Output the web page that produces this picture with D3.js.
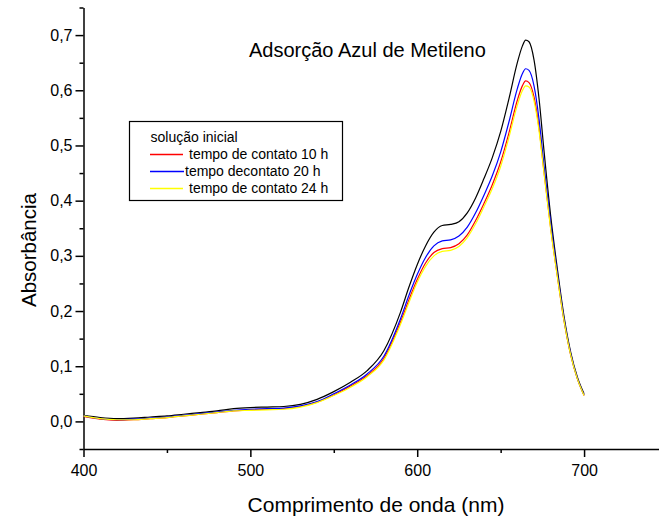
<!DOCTYPE html>
<html>
<head>
<meta charset="utf-8">
<script src="https://cdn.jsdelivr.net/npm/d3@7"></script>
<style>
  body { margin: 0; background: #fff; }
  text { font-family: Arial, "Liberation Sans", sans-serif; fill: #000; }
</style>
</head>
<body>
<script>
// wavelengths (nm) and absorbance for each sample
var wavelengths = [400, 410, 420, 430, 440, 450, 460, 470, 480, 490, 500, 510, 520, 530, 540,
  550, 560, 570, 580, 590, 595, 600, 605, 610, 615, 620, 625, 630, 635, 640, 645, 650, 655,
  660, 663, 665, 667, 670, 673, 676, 680, 684, 688, 692, 696, 700];

var absInicial = [0.011, 0.007, 0.005, 0.006, 0.008, 0.010, 0.013, 0.016, 0.019, 0.023, 0.025,
  0.026, 0.027, 0.031, 0.040, 0.054, 0.071, 0.092, 0.128, 0.198, 0.243, 0.284, 0.318, 0.343,
  0.355, 0.357, 0.362, 0.378, 0.405, 0.440, 0.478, 0.525, 0.585, 0.650, 0.680, 0.691, 0.688,
  0.655, 0.585, 0.490, 0.372, 0.276, 0.190, 0.125, 0.080, 0.050];

var abs10h = [0.009, 0.004, 0.002, 0.003, 0.005, 0.007, 0.010, 0.013, 0.016, 0.019, 0.021,
  0.022, 0.023, 0.027, 0.035, 0.048, 0.064, 0.083, 0.114, 0.180, 0.220, 0.257, 0.287, 0.306,
  0.313, 0.315, 0.322, 0.338, 0.364, 0.395, 0.429, 0.470, 0.523, 0.582, 0.608, 0.617, 0.614,
  0.588, 0.532, 0.452, 0.350, 0.263, 0.182, 0.120, 0.077, 0.047];

var abs20h = [0.010, 0.005, 0.003, 0.004, 0.006, 0.008, 0.011, 0.014, 0.017, 0.020, 0.022,
  0.023, 0.024, 0.028, 0.036, 0.050, 0.066, 0.086, 0.118, 0.186, 0.228, 0.266, 0.297, 0.318,
  0.327, 0.329, 0.336, 0.352, 0.378, 0.410, 0.445, 0.488, 0.543, 0.603, 0.630, 0.639, 0.636,
  0.608, 0.548, 0.463, 0.358, 0.268, 0.185, 0.122, 0.078, 0.048];

var abs24h = [0.010, 0.005, 0.003, 0.003, 0.005, 0.007, 0.010, 0.013, 0.016, 0.019, 0.020,
  0.021, 0.022, 0.026, 0.034, 0.047, 0.062, 0.081, 0.111, 0.176, 0.215, 0.252, 0.281, 0.300,
  0.308, 0.310, 0.317, 0.333, 0.358, 0.389, 0.422, 0.462, 0.515, 0.573, 0.599, 0.608, 0.606,
  0.581, 0.527, 0.450, 0.348, 0.262, 0.182, 0.120, 0.077, 0.047];

var seriesNames = ["solução inicial", "tempo de contato 10 h", "tempo decontato 20 h", "tempo de contato 24 h"];
var seriesColors = ["#000000", "#ff0000", "#0000ff", "#ffff00"];
var seriesValues = [absInicial, abs10h, abs20h, abs24h];

var xMajorTicks = [400, 500, 600, 700];
var xMinorTicks = [450, 550, 650, 750];
var yMajorTicks = [0, 0.1, 0.2, 0.3, 0.4, 0.5, 0.6, 0.7];
var yMinorTicks = [-0.05, 0.05, 0.15, 0.25, 0.35, 0.45, 0.55, 0.65, 0.75];

var svgWidth = 659;
var svgHeight = 524;

var svg = d3.select("body")
  .append("svg")
  .attr("width", svgWidth)
  .attr("height", svgHeight);

// plot area edges
var plotLeft = 83.5, plotRight = 667.5, plotTop = 7.5, plotBottom = 449;

var xScale = d3.scaleLinear().domain([400, 750]).range([plotLeft, plotRight]);
var yScale = d3.scaleLinear().domain([-0.05, 0.75]).range([plotBottom, plotTop]);

// axes
svg.append("g")
  .attr("transform", `translate(0, ${plotBottom})`)
  .call(d3.axisBottom(xScale).tickValues(xMajorTicks).tickSize(8).tickSizeOuter(0).tickPadding(8));
svg.append("g")
  .attr("transform", `translate(0, ${plotBottom})`)
  .call(d3.axisBottom(xScale).tickValues(xMinorTicks).tickSize(4).tickFormat(""))
  .select(".domain").remove();

svg.append("g")
  .attr("transform", `translate(${plotLeft}, 0)`)
  .call(d3.axisLeft(yScale).tickValues(yMajorTicks).tickSize(8).tickSizeOuter(0).tickPadding(3)
    .tickFormat(d => d3.format(".1f")(d).replace(".", ",")));
svg.append("g")
  .attr("transform", `translate(${plotLeft}, 0)`)
  .call(d3.axisLeft(yScale).tickValues(yMinorTicks).tickSize(4).tickFormat(""))
  .select(".domain").remove();

svg.selectAll(".domain, .tick line")
  .attr("stroke", "#000")
  .attr("stroke-width", 1.5);
svg.selectAll(".tick text")
  .style("font-family", "Arial, 'Liberation Sans', sans-serif")
  .style("font-size", "16px");

// curves
var line = d3.line()
  .x((d, i) => xScale(wavelengths[i]))
  .y(d => yScale(d))
  .curve(d3.curveMonotoneX);

svg.selectAll(".curve")
  .data(seriesValues)
  .enter()
  .append("path")
  .attr("class", "curve")
  .attr("fill", "none")
  .attr("stroke", (d, i) => seriesColors[i])
  .attr("stroke-width", 1.2)
  .attr("d", line);

// title
svg.append("text")
  .attr("x", 249)
  .attr("y", 57)
  .style("font-size", "20px")
  .text("Adsorção Azul de Metileno");

// axis titles
svg.append("text")
  .attr("x", 376)
  .attr("y", 512)
  .attr("text-anchor", "middle")
  .style("font-size", "21px")
  .text("Comprimento de onda (nm)");

svg.append("text")
  .attr("transform", "translate(36, 250) rotate(-90)")
  .attr("text-anchor", "middle")
  .style("font-size", "20.5px")
  .text("Absorbância");

// legend
var legend = svg.append("g");
legend.append("rect")
  .attr("x", 129.5)
  .attr("y", 121.5)
  .attr("width", 213)
  .attr("height", 79)
  .attr("fill", "#fff")
  .attr("stroke", "#000")
  .attr("stroke-width", 1.2);

legend.append("text")
  .attr("x", 150.5)
  .attr("y", 142)
  .style("font-size", "14px")
  .text(seriesNames[0]);

var legendRows = [1, 2, 3];
var lineEnds = [183, 184, 183];
var textStarts = [189, 185, 189];
legend.selectAll(".leg-line")
  .data(legendRows)
  .enter()
  .append("line")
  .attr("x1", 150)
  .attr("x2", (d, i) => lineEnds[i])
  .attr("y1", (d, i) => 154.5 + i * 17)
  .attr("y2", (d, i) => 154.5 + i * 17)
  .attr("stroke", d => seriesColors[d])
  .attr("stroke-width", 1.3);
legend.selectAll(".leg-text")
  .data(legendRows)
  .enter()
  .append("text")
  .attr("x", (d, i) => textStarts[i])
  .attr("y", (d, i) => 159 + i * 17)
  .style("font-size", "14px")
  .text(d => seriesNames[d]);
</script>
</body>
</html>
